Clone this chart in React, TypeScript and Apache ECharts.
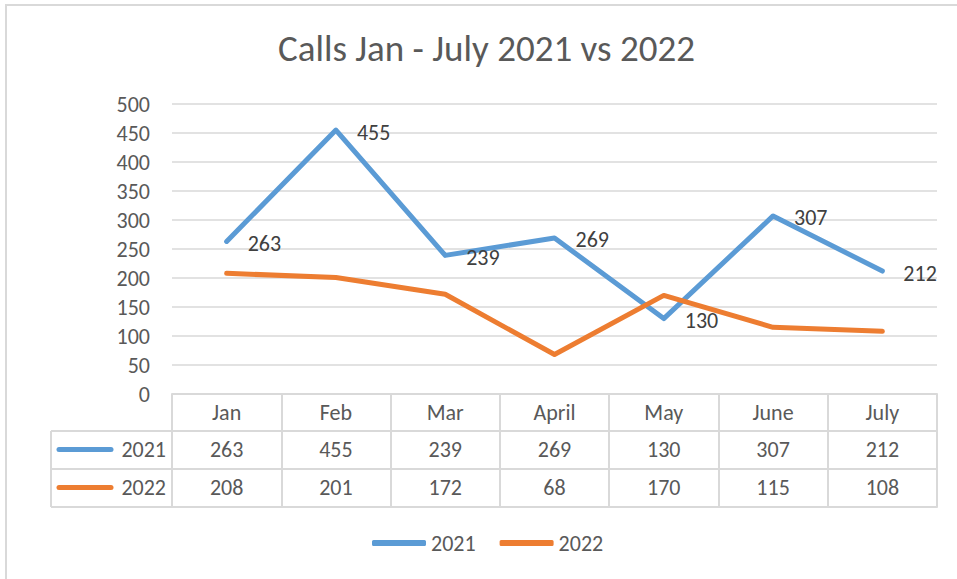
import React, { useEffect, useRef } from "react";
import * as echarts from "echarts";

const categories = ["Jan", "Feb", "Mar", "April", "May", "June", "July"];
const seriesNames = ["2021", "2022"];
const values2021 = [263, 455, 239, 269, 130, 307, 212];
const values2022 = [208, 201, 172, 68, 170, 115, 108];
const colors = ["#5B9BD5", "#ED7D31"];
const titleText = "Calls Jan - July 2021 vs 2022";

const FONT = "Carlito, Lato, 'Noto Sans', sans-serif";
const GRID_COLOR = "#D9D9D9";
const TEXT_COLOR = "#595959";
const FS = 22;

export default function App() {
  const ref = useRef<HTMLDivElement>(null);
  useEffect(() => {
    document.body.style.margin = "0";
    if (!ref.current) return;
    const chart = echarts.init(ref.current, null, { renderer: "svg" });
    const rows = [values2021, values2022];
    const gridLeft = 172;
    const tableRowY = [431, 469];
    const tableBottom = 507;
    const tableLeft = 51;

    const tableGraphics: any[] = [];
    [tableRowY[0], tableRowY[1], tableBottom].forEach((y) => {
      tableGraphics.push({
        type: "line",
        shape: { x1: tableLeft, y1: y, x2: gridLeft, y2: y },
        style: { stroke: GRID_COLOR, lineWidth: 2 },
        silent: true,
      });
    });
    tableGraphics.push({
      type: "line",
      shape: { x1: tableLeft, y1: tableRowY[0], x2: tableLeft, y2: tableBottom },
      style: { stroke: GRID_COLOR, lineWidth: 2 },
      silent: true,
    });
    seriesNames.forEach((name, i) => {
      const cy = tableRowY[i] + 18.5;
      tableGraphics.push({
        type: "line",
        shape: { x1: 59, y1: cy, x2: 111, y2: cy },
        style: { stroke: colors[i], lineWidth: 5, lineCap: "round" },
        silent: true,
      });
      tableGraphics.push({
        type: "text",
        x: 166,
        y: cy,
        style: {
          text: name,
          align: "right",
          verticalAlign: "middle",
          fontSize: FS,
          fontFamily: FONT,
          fill: TEXT_COLOR,
        },
        silent: true,
      });
    });

    const tableAxis = (offset: number, rowIdx: number | null, tickLen: number, showTicks: boolean) => ({
      type: "category",
      data: categories,
      position: "bottom",
      offset,
      boundaryGap: true,
      axisLine: { show: true, lineStyle: { color: GRID_COLOR, width: 2 } },
      axisTick: {
        show: showTicks,
        interval: 0,
        alignWithLabel: false,
        length: tickLen,
        lineStyle: { color: GRID_COLOR, width: 2 },
      },
      axisLabel: {
        show: rowIdx !== -1,
        interval: 0,
        margin: 7,
        fontSize: FS,
        fontFamily: FONT,
        color: TEXT_COLOR,
        formatter: (v: string, idx: number) =>
          rowIdx === null ? v : rowIdx >= 0 ? String(rows[rowIdx][idx]) : "",
      },
      splitLine: { show: false },
    });

    chart.setOption({
      animation: false,
      backgroundColor: "#ffffff",
      textStyle: { fontFamily: FONT },
      title: {
        text: titleText,
        left: 278,
        top: 30,
        padding: 0,
        textStyle: {
          fontSize: 37,
          fontWeight: "normal",
          fontFamily: FONT,
          color: TEXT_COLOR,
        },
      },
      legend: {
        data: seriesNames,
        left: 372,
        top: 532,
        padding: 0,
        icon: "roundRect",
        itemWidth: 54,
        itemHeight: 6,
        itemGap: 24,
        textStyle: { fontSize: FS, fontFamily: FONT, color: TEXT_COLOR },
      },
      grid: { left: gridLeft, right: 20, top: 104, height: 290, containLabel: false },
      xAxis: [
        tableAxis(0, null, 37, true),
        tableAxis(37, 0, 38, true),
        tableAxis(75, 1, 38, true),
        tableAxis(113, -1, 0, false),
      ],
      yAxis: {
        type: "value",
        min: 0,
        max: 500,
        interval: 50,
        axisLine: { show: false },
        axisTick: { show: false },
        axisLabel: { margin: 22, fontSize: FS, fontFamily: FONT, color: TEXT_COLOR },
        splitLine: { lineStyle: { color: GRID_COLOR, width: 1.5 } },
      },
      series: [
        {
          name: seriesNames[0],
          type: "line",
          data: values2021,
          xAxisIndex: 0,
          symbol: "circle",
          symbolSize: 2,
          color: colors[0],
          lineStyle: { width: 5, color: colors[0], cap: "round", join: "round" },
          label: {
            show: true,
            position: "right",
            distance: 20,
            offset: [0, 2],
            fontSize: FS,
            fontFamily: FONT,
            color: "#404040",
          },
        },
        {
          name: seriesNames[1],
          type: "line",
          data: values2022,
          xAxisIndex: 0,
          symbol: "circle",
          symbolSize: 2,
          color: colors[1],
          lineStyle: { width: 5, color: colors[1], cap: "round", join: "round" },
          label: { show: false },
        },
      ],
      graphic: [
        {
          type: "rect",
          shape: { x: 6, y: 5, width: 1000, height: 700 },
          style: { fill: "none", stroke: GRID_COLOR, lineWidth: 2 },
          silent: true,
          z: -10,
        },
        ...tableGraphics,
      ],
    });
    return () => chart.dispose();
  }, []);
  return <div ref={ref} style={{ width: 957, height: 579 }} />;
}
